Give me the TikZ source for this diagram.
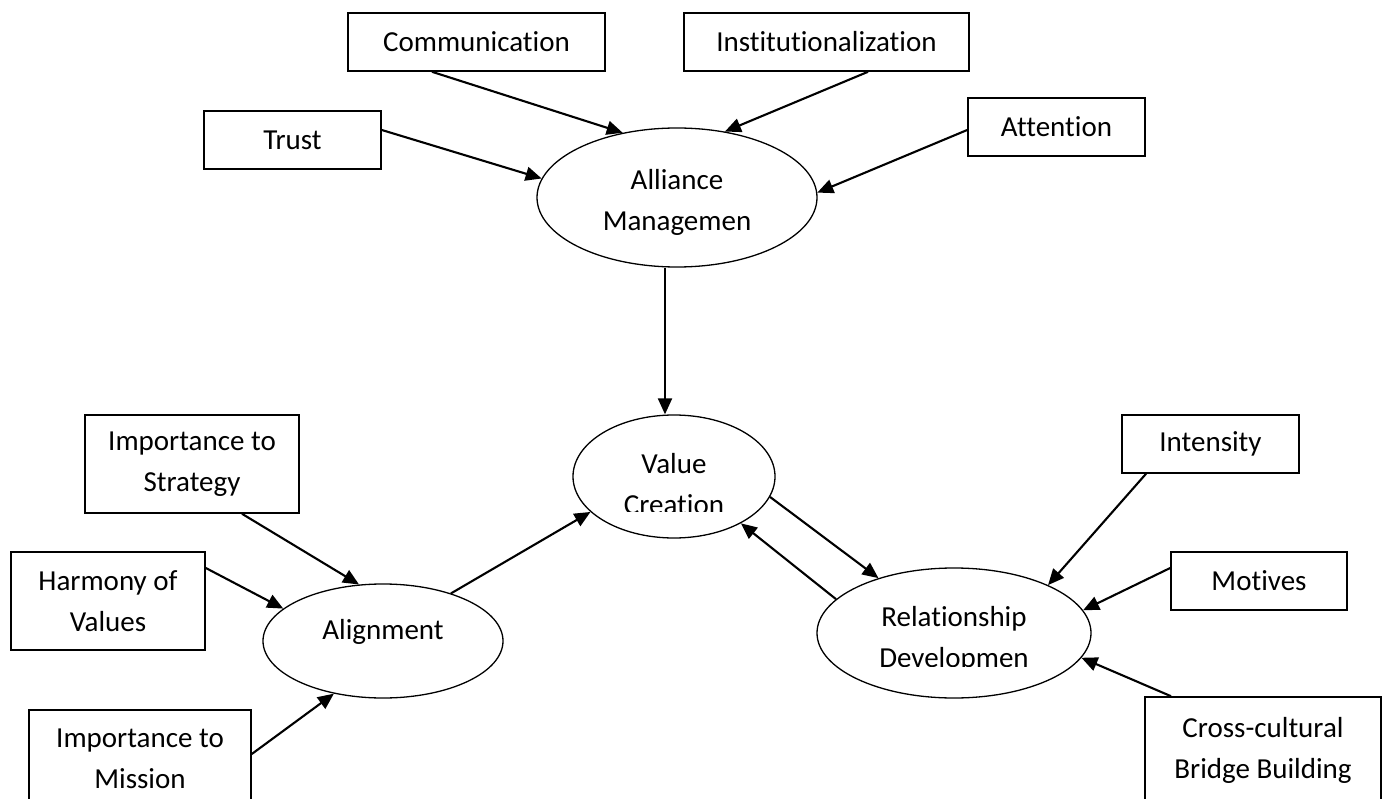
\documentclass[tikz,border=0pt]{standalone}
\usepackage{fontspec}
\setmainfont{Carlito}[Ligatures=NoCommon]
\usetikzlibrary{arrows.meta,shapes.geometric,calc}
\begin{document}
\begin{tikzpicture}[x=1pt,y=-1pt,
  box/.style={draw,line width=1.6pt,rectangle,inner sep=0pt,align=center,font=\fontsize{29}{41}\selectfont},
  ell/.style={draw,line width=1.3pt,ellipse,inner sep=0pt},
  txt/.style={align=center,inner sep=0pt,font=\fontsize{29}{41}\selectfont},
  arr/.style={line width=2.1pt,-{Triangle[length=16pt,width=14pt]}}]
\clip (0,0) rectangle (1384,799);
\fill[white] (0,0) rectangle (1384,799);

% boxes
\node[box,minimum width=257pt,minimum height=58pt] (comm) at (476.5,42) {Communication};
\node[box,minimum width=285pt,minimum height=58pt] (inst) at (826.5,42) {Institutionalization};
\node[box,minimum width=177pt,minimum height=58pt] (trust) at (292.5,140) {Trust};
\node[box,minimum width=177pt,minimum height=58pt] (att) at (1056.5,127) {Attention};
\node[box,minimum width=214pt,minimum height=98pt] (strat) at (192,464) {Importance to\\Strategy};
\node[box,minimum width=194pt,minimum height=98pt] (harm) at (108,601) {Harmony of\\Values};
\node[box,minimum width=222pt,minimum height=98pt] (miss) at (140,759) {Importance to\\Mission};
\node[box,minimum width=177pt,minimum height=58pt] (int) at (1210.5,444) {Intensity};
\node[box,minimum width=176pt,minimum height=58pt] (mot) at (1259,581) {Motives};
\node[box,minimum width=236pt,minimum height=106pt] (cross) at (1263,750) {Cross-cultural\\Bridge Building};

% ellipses
\node[ell,minimum width=280pt,minimum height=139pt] (am) at (677,197.5) {};
\node[ell,minimum width=202pt,minimum height=123pt] (vc) at (674,476.5) {};
\node[ell,minimum width=240pt,minimum height=114pt] (al) at (383,641) {};
\node[ell,minimum width=274pt,minimum height=130pt] (rd) at (954,633) {};

% ellipse texts
\node[txt] (amt) at ([yshift=-5pt]am.center) {Alliance\\Managemen};
\node[txt] (alt) at ([yshift=9pt]al.center) {Alignment};
\begin{scope}
  \clip (560,420) rectangle (790,511.5);
  \node[txt] (vct) at ([yshift=-8pt]vc.center) {Value\\Creation};
\end{scope}
\begin{scope}
  \clip (820,580) rectangle (1090,666);
  \node[txt] (rdt) at ([yshift=-6pt]rd.center) {Relationship\\Developmen};
\end{scope}

% connectors
\draw[arr] ([yshift=10pt]trust.east) -- (am.172.9);
\draw[arr] ([xshift=-44.5pt]comm.south) -- (am.130.2);
\draw[arr] ([xshift=41.5pt]inst.south) -- (am.54.3);
\draw[arr] ([yshift=-3pt]att.west) -- (am.2.2);
\draw[arr] ([xshift=-12pt]am.south) -- ([xshift=-12pt]am.south |- vc.north);

\draw[arr] ([xshift=50pt]strat.south) -- (al.113.3);
\draw[arr] ([yshift=33pt]harm.east) -- (al.162.3);
\draw[arr] ([yshift=5pt]miss.east) -- (al.227);
\draw[arr] (al.35) -- (vc.203.9);

\draw[arr] (vc.348) -- (rd.144.5);
\draw[arr] (rd.164) -- (vc.325.7);

\draw[arr] ([xshift=-64.5pt]int.south) -- (rd.27.7);
\draw[arr] ([yshift=13pt]mot.west) -- (rd.10.5);
\draw[arr] ([xshift=-92pt]cross.north) -- (rd.349.1);
\end{tikzpicture}
\end{document}
